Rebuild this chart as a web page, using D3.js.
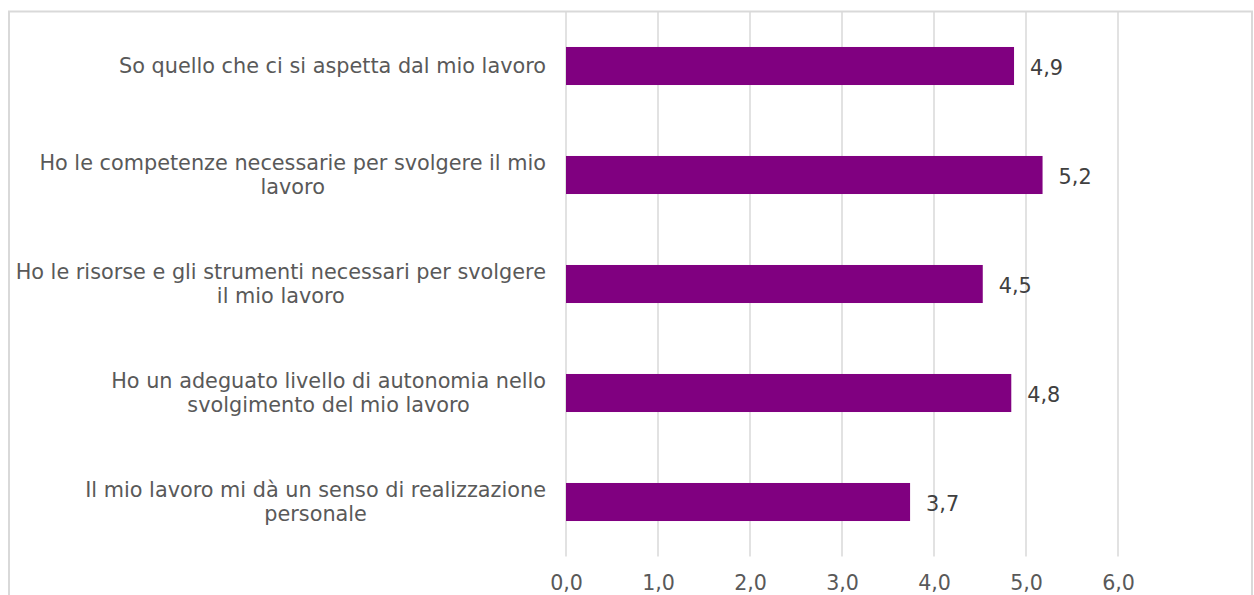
<!DOCTYPE html>
<html>
<head>
<meta charset="utf-8">
<script src="https://cdn.jsdelivr.net/npm/d3@7"></script>
<style>
  html, body { margin: 0; padding: 0; background: #ffffff; }
  svg { display: block; }
  text { font-family: "DejaVu Sans", Verdana, sans-serif; }
</style>
</head>
<body>
<svg id="chart" width="1254" height="595"></svg>
<script>
// Data
const categories = [
  "So quello che ci si aspetta dal mio lavoro",
  "Ho le competenze necessarie per svolgere il mio\nlavoro",
  "Ho le risorse e gli strumenti necessari per svolgere\nil mio lavoro",
  "Ho un adeguato livello di autonomia nello\nsvolgimento del mio lavoro",
  "Il mio lavoro mi dà un senso di realizzazione\npersonale"
];
const values = [4.87, 5.18, 4.53, 4.84, 3.74];
const xTicks = [0, 1, 2, 3, 4, 5, 6];

const svg = d3.select("#chart");

// Chart border
svg.append("rect")
  .attr("x", 9).attr("y", 11.5)
  .attr("width", 1243).attr("height", 700)
  .attr("fill", "#ffffff")
  .attr("stroke", "#d9d9d9").attr("stroke-width", 2);

const plot = { left: 566, right: 1118, top: 11.5, bottom: 556.5 };

const x = d3.scaleLinear().domain([0, 6]).range([plot.left, plot.right]);
const y = d3.scaleBand().domain(d3.range(categories.length))
  .range([plot.top, plot.bottom]).paddingInner(0.651).paddingOuter(0.3255);

const fmt = v => d3.format(".1f")(v).replace(".", ",");

// Gridlines
svg.append("g").selectAll("line").data(xTicks).join("line")
  .attr("x1", d => x(d)).attr("x2", d => x(d))
  .attr("y1", plot.top).attr("y2", plot.bottom)
  .attr("stroke", "#d9d9d9").attr("stroke-width", 1.5);

// X axis labels
const xAxis = d3.axisBottom(x).tickValues(xTicks).tickFormat(fmt).tickSize(0).tickPadding(0);
const gx = svg.append("g").attr("transform", `translate(0,${plot.bottom})`).call(xAxis);
gx.select(".domain").remove();
gx.selectAll("text")
  .attr("y", 33).attr("dy", null)
  .attr("font-size", "20.6px")
  .attr("font-family", "DejaVu Sans, Verdana, sans-serif")
  .attr("fill", "#595959");

// Bars
svg.append("g").selectAll("rect").data(values).join("rect")
  .attr("x", x(0))
  .attr("y", (d, i) => y(i))
  .attr("width", d => x(d) - x(0))
  .attr("height", y.bandwidth())
  .attr("fill", "#800080");

// Value labels
svg.append("g").selectAll("text").data(values).join("text")
  .attr("x", d => x(d) + 16)
  .attr("y", (d, i) => y(i) + y.bandwidth() / 2 + 9)
  .attr("font-size", "20.8px")
  .attr("fill", "#404040")
  .text(d => fmt(d));

// Category labels (block right-aligned at 546, lines centred within block)
const labelRight = 546;
const lineH = 24;
const gl = svg.append("g");
categories.forEach((c, i) => {
  const lines = c.split("\n");
  const t = gl.append("text")
    .attr("font-size", "20.8px")
    .attr("fill", "#595959")
    .attr("text-anchor", "middle");
  const spans = lines.map(ln => t.append("tspan").text(ln));
  const maxW = d3.max(spans, s => s.node().getComputedTextLength());
  const cx = labelRight - maxW / 2;
  const cy = y(i) + y.bandwidth() / 2;
  const y0 = cy - (lines.length - 1) * lineH / 2 + 7;
  spans.forEach((s, k) => s.attr("x", cx).attr("y", y0 + k * lineH));
});
</script>
</body>
</html>
